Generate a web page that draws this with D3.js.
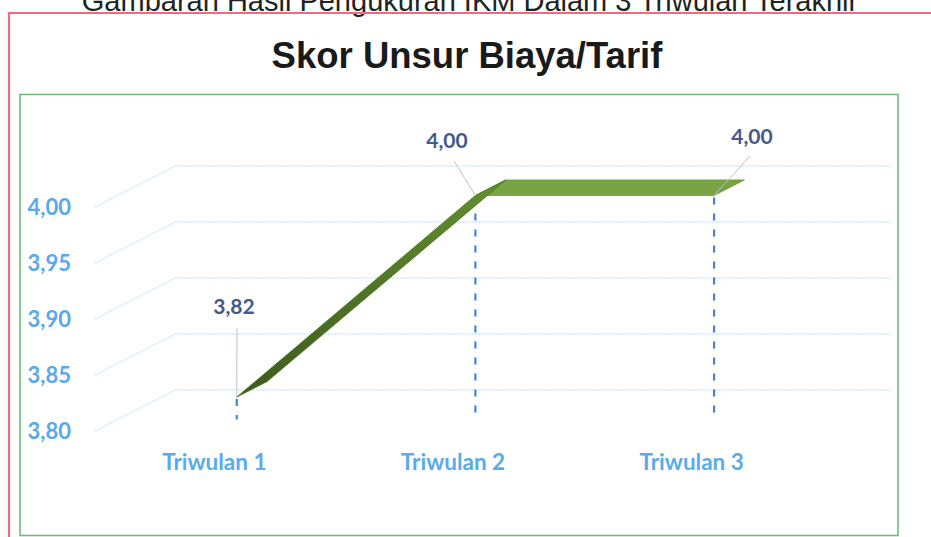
<!DOCTYPE html>
<html><head><meta charset="utf-8">
<script src="https://cdn.jsdelivr.net/npm/d3@7"></script>
<style>html,body{margin:0;padding:0;background:#fff;overflow:hidden}</style>
</head><body>
<svg id="c" width="931" height="537"></svg>
<script>
const categories = ["Triwulan 1", "Triwulan 2", "Triwulan 3"];
const values = [3.82, 4.00, 4.00];
const valueLabels = ["3,82", "4,00", "4,00"];
const yTicks = [3.80, 3.85, 3.90, 3.95, 4.00];
const yTickLabels = ["3,80", "3,85", "3,90", "3,95", "4,00"];
const pageTitle = "Gambaran Hasil Pengukuran IKM Dalam 3 Triwulan Terakhir";
const chartTitle = "Skor Unsur Biaya/Tarif";

const svg = d3.select("#c");
const depth = {dx: 80, dy: -41};
const f0 = 0.28, f1 = 0.66;
const x = d3.scaleBand().domain(categories).range([95, 811]);
const y = d3.scaleLinear().domain([3.80, 4.00]).range([431, 207]);
const cx = c => x(c) + x.bandwidth() / 2;

// page text + borders
svg.append("text").attr("x", 470).attr("y", 11).attr("text-anchor", "middle")
  .attr("font-family", "Liberation Sans, Arial, sans-serif").attr("font-size", 29)
  .attr("fill", "#222").text(pageTitle);
svg.append("path").attr("d", "M9,540 L9,13 L935,13").attr("fill", "none")
  .attr("stroke", "#ef6a80").attr("stroke-width", 2.2);
svg.append("rect").attr("x", 20).attr("y", 94.5).attr("width", 878).attr("height", 441)
  .attr("fill", "none").attr("stroke", "#6dbb7d").attr("stroke-width", 1.6);
svg.append("text").attr("x", 467).attr("y", 68).attr("text-anchor", "middle")
  .attr("font-family", "Liberation Sans, Arial, sans-serif").attr("font-weight", "bold")
  .attr("font-size", 36.5).attr("fill", "#1a1a1a").text(chartTitle);

// gridlines (3D: front-left slant then back wall)
const xl = x.range()[0], xr = x.range()[1];
svg.append("g").selectAll("path").data(yTicks).join("path")
  .attr("d", v => `M${xl},${y(v)} L${xl + depth.dx},${y(v) + depth.dy} L${xr + depth.dx},${y(v) + depth.dy}`)
  .attr("fill", "none").attr("stroke", "#b5def0").attr("stroke-width", 1)
  .attr("stroke-dasharray", "2,1");

// y tick labels
svg.append("g").selectAll("text").data(yTicks).join("text")
  .attr("x", 71).attr("y", v => y(v) + 2).attr("text-anchor", "end")
  .attr("dominant-baseline", "middle")
  .attr("font-family", "Lato, sans-serif").attr("font-weight", "bold").attr("font-size", 22)
  .attr("fill", "#5aa8ea").text((v, i) => yTickLabels[i]);

// category labels
svg.append("g").selectAll("text").data(categories).join("text")
  .attr("x", c => cx(c)).attr("y", 464).attr("text-anchor", "middle")
  .attr("dominant-baseline", "middle")
  .attr("font-family", "Lato, sans-serif").attr("font-weight", "bold").attr("font-size", 22.5)
  .attr("fill", "#5aabeb").text(c => c);

// 3D ribbon points
const pts = categories.map((c, i) => ({
  c, v: values[i],
  fx: cx(c) + depth.dx * f0, fy: y(values[i]) + depth.dy * f0,
  bx: cx(c) + depth.dx * f1, by: y(values[i]) + depth.dy * f1
}));

// drop lines
svg.append("g").selectAll("line").data(pts).join("line")
  .attr("x1", p => p.fx).attr("x2", p => p.fx)
  .attr("y1", p => p.fy + 2).attr("y2", p => y(3.80) + depth.dy * f0)
  .attr("stroke", "#3f86d8").attr("stroke-width", 2.2).attr("stroke-dasharray", "7,9");

const defs = svg.append("defs");
const g1 = defs.append("linearGradient").attr("id", "gr").attr("x1", 0).attr("y1", 1).attr("x2", 1).attr("y2", 0);
g1.append("stop").attr("offset", 0).attr("stop-color", "#3d5a1e");
g1.append("stop").attr("offset", 1).attr("stop-color", "#62902e");

const segs = d3.pairs(pts);
segs.slice().reverse().forEach(([a, b]) => {
  const flat = Math.abs(a.v - b.v) < 1e-9;
  svg.append("path")
    .attr("d", `M${a.fx},${a.fy} L${b.fx},${b.fy} L${b.bx},${b.by} L${a.bx},${a.by} Z`)
    .attr("fill", flat ? "#78a444" : "url(#gr)")
    .attr("stroke", flat ? "#6e9a3b" : "#4d7225").attr("stroke-width", 0.8);
});

// leader lines
const labelPos = [
  {lx: 234, ly: 309, sx: 237, sy: 328},
  {lx: 447, ly: 143, sx: 454, sy: 161},
  {lx: 752, ly: 139, sx: 750, sy: 156}
];
svg.append("g").selectAll("line").data(pts).join("line")
  .attr("x1", (p, i) => labelPos[i].sx).attr("y1", (p, i) => labelPos[i].sy)
  .attr("x2", p => p.fx).attr("y2", p => p.fy)
  .attr("stroke", "#b9c3d3").attr("stroke-width", 1);

svg.append("g").selectAll("text").data(pts).join("text")
  .attr("x", (p, i) => labelPos[i].lx).attr("y", (p, i) => labelPos[i].ly)
  .attr("text-anchor", "middle").attr("dominant-baseline", "middle")
  .attr("font-family", "Lato, sans-serif").attr("font-weight", "bold").attr("font-size", 21)
  .attr("fill", "#44598d").text((p, i) => valueLabels[i]);
</script>
</body></html>
